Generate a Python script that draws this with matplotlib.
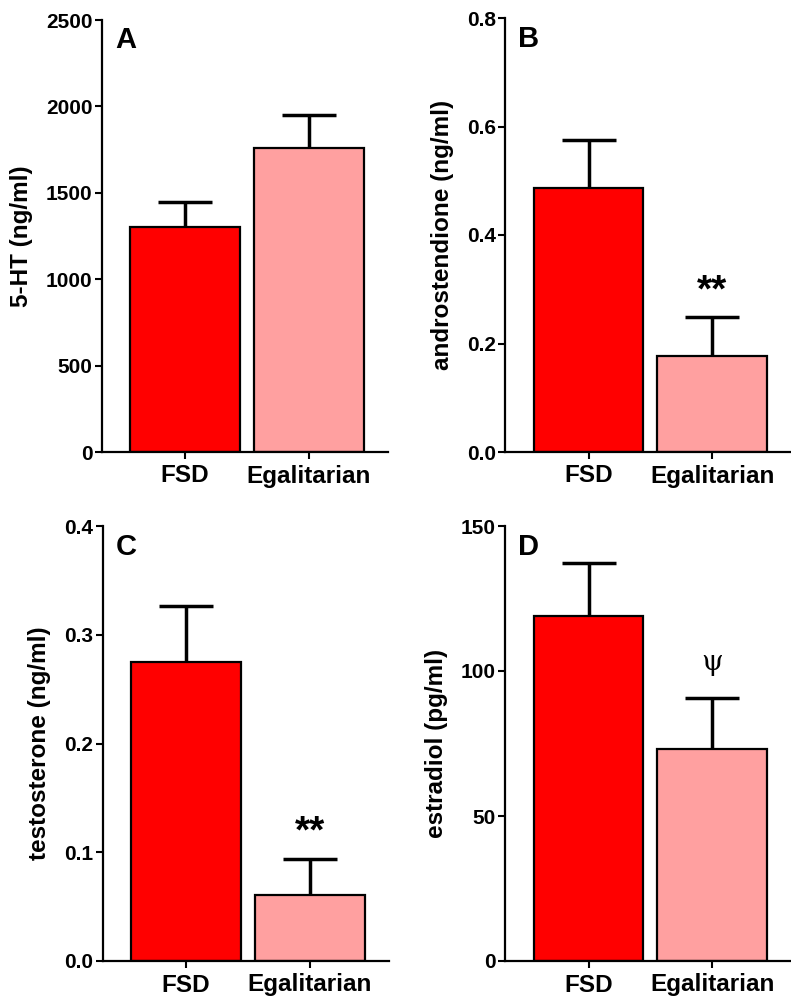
import numpy as np
import matplotlib.pyplot as plt

plt.rcParams['font.family'] = ['Liberation Sans', 'DejaVu Sans']
plt.rcParams['font.weight'] = 'bold'

groups = ['FSD', 'Egalitarian']
colors = ['#FF0000', '#FFA0A0']

# mean and SEM per group
ht5_mean = [1300, 1757]
ht5_sem = [147, 192]
andro_mean = [0.486, 0.177]
andro_sem = [0.090, 0.071]
testo_mean = [0.275, 0.061]
testo_sem = [0.051, 0.033]
estra_mean = [119.0, 73.0]
estra_sem = [18.3, 17.6]

panels = [
    ('A', '5-HT (ng/ml)', ht5_mean, ht5_sem, [0, 500, 1000, 1500, 2000, 2500], '{:.0f}', None),
    ('B', 'androstendione (ng/ml)', andro_mean, andro_sem, [0, 0.2, 0.4, 0.6, 0.8], '{:.1f}', '**'),
    ('C', 'testosterone (ng/ml)', testo_mean, testo_sem, [0, 0.1, 0.2, 0.3, 0.4], '{:.1f}', '**'),
    ('D', 'estradiol (pg/ml)', estra_mean, estra_sem, [0, 50, 100, 150], '{:.0f}', 'ψ'),
]

# axes rectangles in figure fractions
rects = [
    [0.129, 0.548, 0.362, 0.432],
    [0.639, 0.548, 0.362, 0.434],
    [0.130, 0.039, 0.362, 0.435],
    [0.639, 0.039, 0.362, 0.435],
]

fig = plt.figure(figsize=(7.91, 10), dpi=100)
x = np.arange(len(groups))

for (letter, ylabel, mean, sem, yticks, fmt, mark), rect in zip(panels, rects):
    ax = fig.add_axes(rect)
    ax.bar(x, mean, width=0.887, color=colors, edgecolor='black', linewidth=1.6, zorder=2)
    eb = ax.errorbar(x, mean, yerr=[np.zeros(len(sem)), sem], fmt='none', ecolor='black',
                     elinewidth=2.5, capsize=19.5, capthick=2.5, zorder=1)
    eb[1][0].set_visible(False)  # only the upper cap

    ax.set_xlim(-0.67, 1.64)
    ax.set_ylim(yticks[0], yticks[-1])
    ax.set_yticks(yticks)
    ax.set_yticklabels([fmt.format(t) for t in yticks])
    ax.set_xticks(x)
    ax.set_xticklabels(groups)
    ax.tick_params(axis='y', labelsize=15, width=1.5, length=5, pad=2)
    ax.tick_params(axis='x', labelsize=17.5, width=1.5, length=5, pad=4)
    for s in ['top', 'right']:
        ax.spines[s].set_visible(False)
    for s in ['left', 'bottom']:
        ax.spines[s].set_linewidth(1.6)
    ax.set_ylabel(ylabel, fontsize=17.5, fontweight='bold', labelpad=9)

    ax.text(0.045, 0.985, letter, transform=ax.transAxes, fontsize=21,
            fontweight='bold', ha='left', va='top')

    if mark == '**':
        ax.annotate(mark, (x[1], mean[1] + sem[1]), xytext=(0, 6), textcoords='offset points',
                    ha='center', va='bottom', fontsize=28, fontweight='bold')
    elif mark == 'ψ':
        ax.annotate(mark, (x[1], mean[1] + sem[1]), xytext=(0, 16), textcoords='offset points',
                    ha='center', va='bottom', fontsize=20, fontweight='normal',
                    family=['DejaVu Serif'])

fig.savefig('out.png', dpi=100)
